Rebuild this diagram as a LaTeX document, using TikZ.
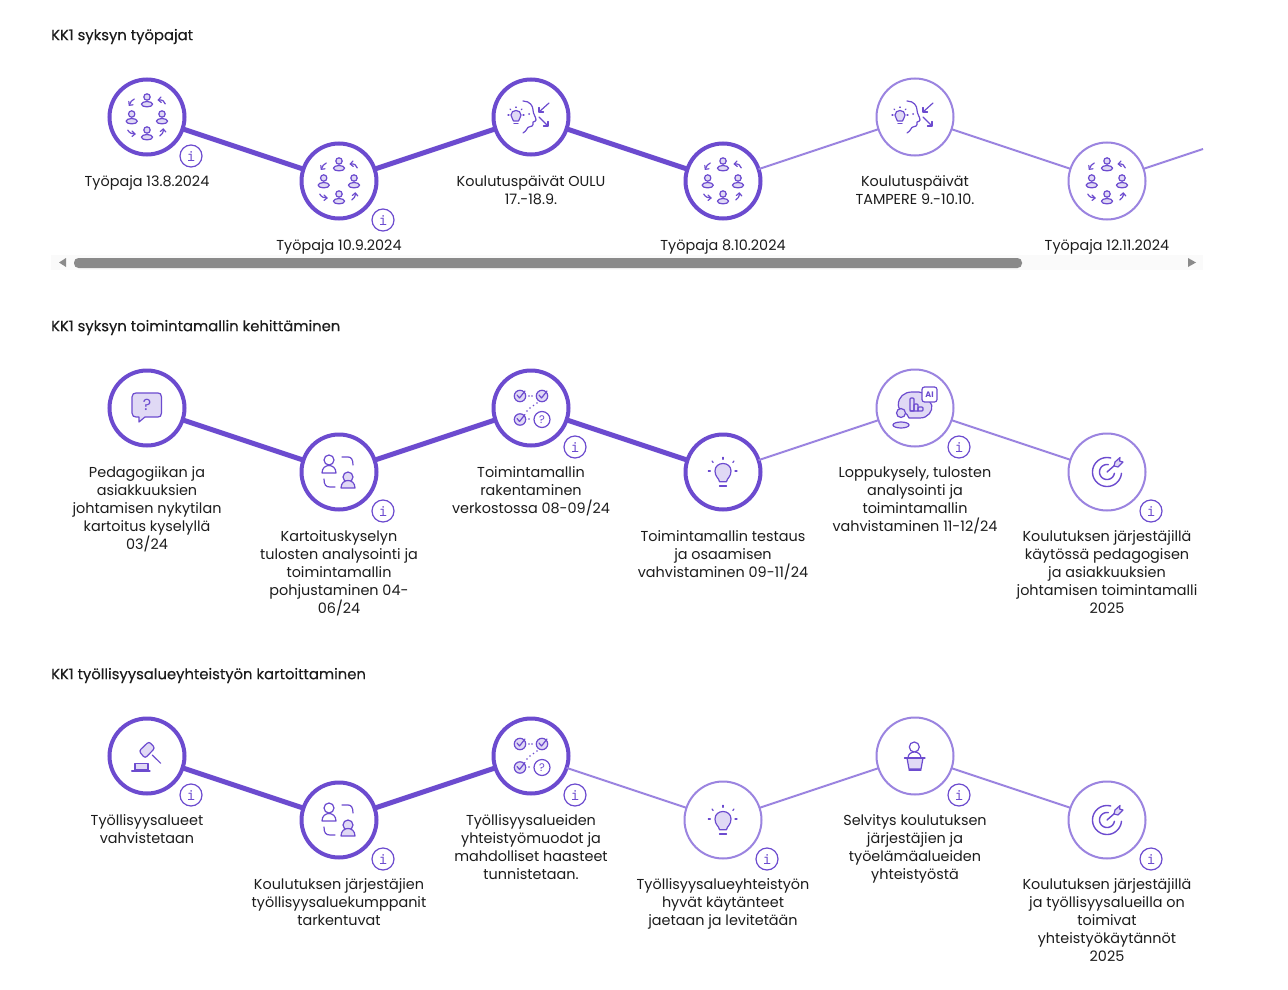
\documentclass[tikz,border=0pt]{standalone}
\usepackage{fontspec}
\setmainfont{Poppins}
\newfontfamily\headfont[FakeBold=0.25]{Poppins}
\newfontfamily\infofont[FakeBold=0.3]{DejaVu Sans Mono}
\definecolor{vio}{HTML}{6C4BCF}
\definecolor{viol}{HTML}{9B84E0}
\definecolor{lav}{HTML}{E0D9F5}
\definecolor{ink}{HTML}{1C1C1C}
\tikzset{
  x=1pt,y=-1pt,
  darkstep/.style={circle,draw=vio,line width=4pt,fill=white,minimum size=75pt,inner sep=0pt,outer sep=0pt},
  lightstep/.style={circle,draw=viol,line width=2pt,fill=white,minimum size=77pt,inner sep=0pt,outer sep=0pt},
  darklink/.style={draw=vio,line width=5pt},
  lightlink/.style={draw=viol,line width=2pt},
  lab/.style={anchor=north,align=center,inner sep=0pt,yshift=-3.5pt,text=ink,font=\fontsize{14.4}{18}\selectfont,execute at begin node=\strut},
  head/.style={anchor=west,inner sep=0pt,yshift=-1.5pt,text=ink,font=\headfont\fontsize{14.8}{18}\selectfont},
  info/.style={circle,draw=vio,line width=1.2pt,fill=white,minimum size=22pt,inner sep=0pt,text=vio,font=\infofont\fontsize{13}{13}\selectfont},
  ic/.style={draw=vio,line width=1.2pt,line cap=round,line join=round},
  icf/.style={ic,fill=lav},
  person/.pic={
    \draw[icf] (0,-3) circle[radius=3.2];
    \draw[icf] (0,4.2) ellipse[x radius=5.6,y radius=2.7];
  },
  groupicon/.pic={
    \pic at (0,-17) {person};
    \pic at (0,16) {person};
    \pic at (-15.3,0) {person};
    \pic at (15,0) {person};
    % four small turning arrows
    \draw[ic] (-12.7,-18) .. controls (-15,-17) and (-17,-15) .. (-17.7,-11.7);
    \draw[ic] (-18.2,-15.5) -- (-17.7,-11.7) -- (-14,-12.2);
    \draw[ic] (18.3,-13) .. controls (18,-16) and (15,-17.5) .. (11.3,-17);
    \draw[ic] (14,-20) -- (11.3,-17) -- (14.3,-14.5);
    \draw[ic] (-19.3,13) .. controls (-17.5,16) and (-15,17.3) .. (-12,17);
    \draw[ic] (-15,14) -- (-12,17) -- (-15,19.5);
    \draw[ic] (12.7,19) .. controls (15,18) and (16.5,15.5) .. (16.3,12);
    \draw[ic] (13.3,14.5) -- (16.3,12) -- (18.8,15);
  },
  bulb/.pic={
    \draw[icf] (-2.5,5) .. controls (-3,2) and (-5,2) .. (-5,-1) .. controls (-5,-7) and (5,-7) .. (5,-1) .. controls (5,2) and (3,2) .. (2.5,5) -- cycle;
    \draw[ic] (-2,7.5) -- (2,7.5);
    \foreach \a/\b/\c/\d in {-8/-1/-7/-1,7/-1/8/-1,-6/-7/-5.3/-6.3,6/-7/5.3/-6.3,0/-9/0/-8.5}
      \draw[ic] (\a,\b) -- (\c,\d);
  },
  bigbulb/.pic={
    \draw[icf] (-3.5,9.7) .. controls (-4,6) and (-8,5) .. (-8,-1) .. controls (-8,-11) and (8,-11) .. (8,-1) .. controls (8,5) and (4,6) .. (3.5,9.7) -- cycle;
    \draw[ic] (-3.5,14) -- (3.5,14);
    \foreach \a/\b/\c/\d in {-14.7/-1/-12.7/-1,12/-1/14/-1,0/-14.7/0/-12.7,-11/-11/-9.8/-9.5,11/-11/9.8/-9.5}
      \draw[ic] (\a,\b) -- (\c,\d);
  },
  headicon/.pic={
    \pic at (-15,-1) {bulb};
    \draw[ic] (-8,-16) .. controls (-1,-16) and (2,-11) .. (2,-7) .. controls (2,-3) and (5,0) .. (5,3) .. controls (5,4) and (3,5) .. (2,5) .. controls (3,9) and (0,10) .. (-2,10) .. controls (-4,10) and (-4,14) .. (-8,16);
    \fill[vio] (-2,-3) circle[radius=1];
    \draw[ic] (18,-14) -- (8,-5);
    \draw[ic] (8,-9.5) -- (8,-5) -- (12.5,-5);
    \draw[ic] (8,0) -- (17,9);
    \draw[ic] (12.5,9) -- (17,9) -- (17,4.5);
  },
  bubbleicon/.pic={
    \draw[icf] (-11,-15) -- (11,-15) .. controls (13,-15) and (14.5,-14) .. (14.5,-11) -- (14.5,5) .. controls (14.5,8) and (13,9) .. (11,9) -- (-2,9) -- (-8,14) -- (-8,9) -- (-11,9) .. controls (-13,9) and (-15,8) .. (-15,5) -- (-15,-11) .. controls (-15,-14) and (-13,-15) .. (-11,-15) -- cycle;
    \node[inner sep=0pt,text=vio,font=\fontsize{16}{16}\selectfont] (qm) at (0,-3) {?};
  },
  swapicon/.pic={
    \draw[ic,fill=white] (-10,-12) circle[radius=5];
    \draw[ic,fill=white] (-17,1) .. controls (-17,-9) and (-3,-9) .. (-3,1) -- cycle;
    \draw[icf] (9,5) circle[radius=5];
    \draw[icf] (2,16) .. controls (2,6) and (16,6) .. (16,16) -- cycle;
    \draw[ic] (3,-15) -- (9,-15) .. controls (12,-15) and (14,-13) .. (14,-7);
    \draw[ic] (-15,7) .. controls (-15,13) and (-13,15) .. (-9,15) -- (-4,15);
  },
  checkc/.pic={
    \draw[icf] (0,0) circle[radius=5.7];
    \draw[ic] (-3,-1) -- (-0.5,2) -- (5,-5);
  },
  netticon/.pic={
    \pic at (-11,-12) {checkc};
    \pic at (11,-12) {checkc};
    \pic at (-11,11.5) {checkc};
    \draw[ic] (11,11.5) circle[radius=8];
    \node[inner sep=0pt,text=vio,font=\fontsize{11}{11}\selectfont] (qn) at (11,11.5) {?};
    \foreach \p in {(-2,-12),(1,-12),(-2,11),(6,-5),(2.5,-2.5),(-1,0),(-4,3)}
      \fill[vio] \p circle[radius=0.9];
  },
  aiicon/.pic={
    \draw[icf] (-16.7,-3) .. controls (-16.7,-11) and (-11,-16) .. (-3,-16) -- (4,-16) .. controls (10,-16) and (12,-10) .. (16.7,-3) .. controls (18,3) and (13,10) .. (5,10) -- (-6,10) .. controls (-7,4) and (-16.7,4) .. (-16.7,-3) -- cycle;
    \draw[ic,fill=white,rounded corners=2.5pt] (7,-21) rectangle (22,-6);
    \node[inner sep=0pt,text=vio,font=\bfseries\fontsize{8}{8}\selectfont] (ai) at (14.5,-13.5) {AI};
    \draw[ic,rounded corners=1pt] (-5,3) -- (-5,-10) -- (-1,-10) -- (-1,3) -- cycle;
    \draw[ic,rounded corners=1pt] (-1,3) -- (-1,-4) -- (3,-4) -- (3,3);
    \draw[ic,rounded corners=1pt] (3,3) -- (3,-1) -- (8,-1) -- (8,3) -- (-5,3);
    \draw[icf] (-14,5) circle[radius=4.5];
    \draw[icf] (-14,17) ellipse[x radius=8,y radius=3];
  },
  targeticon/.pic={
    \draw[ic,line width=1.4pt] plot[domain=-285:-5,samples=40,smooth] ({14.5*cos(\x)},{-14.5*sin(\x)});
    \draw[ic,line width=1.4pt] plot[domain=-280:-10,samples=30,smooth] ({7.5*cos(\x)},{-7.5*sin(\x)});
    \draw[ic,line width=1.4pt] (0,0) -- (8,-7);
    \draw[icf] (7,-6) -- (8,-10) -- (13,-14.5) -- (12.5,-11) -- (16,-10) -- (11,-5) -- cycle;
  },
  hammericon/.pic={
    \draw[icf,rounded corners=2.5pt] (2,-14.5) -- (8,-8) -- (-2,2.3) -- (-8,-5) -- cycle;
    \draw[ic] (5.3,-1) -- (13.7,7.3);
    \draw[icf] (-12,14) -- (-12,7.3) -- (1,7.3) -- (1,14) -- cycle;
    \draw[ic] (-15.3,15) -- (3,15);
  },
  podiumicon/.pic={
    \draw[ic,fill=white] (-0.7,-9) circle[radius=5];
    \draw[ic,fill=white] (-7,2) .. controls (-7,-6) and (6,-6) .. (6,2);
    \draw[icf] (-8,2) -- (8,2) -- (6,13) -- (-6,13) -- cycle;
    \draw[ic] (-10.5,2) -- (10,2);
    \draw[ic] (-6,14) -- (6,14);
  },
}
\begin{document}
\begin{tikzpicture}
\useasboundingbox (0,0) rectangle (1288,990);
\fill[white] (0,0) rectangle (1288,990);

% headings
\node[head] (h1) at (51,35) {KK1 syksyn työpajat};
\node[head] (h2) at (51,326) {KK1 syksyn toimintamallin kehittäminen};
\node[head] (h3) at (51,674) {KK1 työllisyysalueyhteistyön kartoittaminen};

% scrollbar
\fill[black!2] (51,255) rectangle (1203,270);
\fill[black!46,rounded corners=4.5pt] (74,258) rectangle (1022,268);
\fill[black!46] (59,262.5) -- (66,258) -- (66,267) -- cycle;
\fill[black!46] (1196,262.5) -- (1188,258) -- (1188,267) -- cycle;

% row 1
\node[darkstep] (a1) at (147,117) {};
\node[darkstep] (a2) at (339,181) {};
\node[darkstep] (a3) at (531,117) {};
\node[darkstep] (a4) at (723,181) {};
\node[lightstep] (a5) at (915,117) {};
\node[lightstep] (a6) at (1107,181) {};
\coordinate (aend) at (1203,149);
\draw[darklink] (a1) -- (a2);
\draw[darklink] (a2) -- (a3);
\draw[darklink] (a3) -- (a4);
\draw[lightlink] (a4) -- (a5);
\draw[lightlink] (a5) -- (a6);
\draw[lightlink] (a6) -- (aend);
\pic at (a1) {groupicon};
\pic at (a2) {groupicon};
\pic at (a3) {headicon};
\pic at (a4) {groupicon};
\pic at (a5) {headicon};
\pic at (a6) {groupicon};
\node[info] (ai1) at (191,156) {i};
\node[info] (ai2) at (383,220) {i};
\node[lab] (al1) at (147,170) {Työpaja 13.8.2024};
\node[lab] (al2) at (339,234) {Työpaja 10.9.2024};
\node[lab] (al3) at (531,172) {Koulutuspäivät OULU\\17.-18.9.};
\node[lab] (al4) at (723,234) {Työpaja 8.10.2024};
\node[lab] (al5) at (915,172) {Koulutuspäivät\\TAMPERE 9.-10.10.};
\node[lab] (al6) at (1107,234) {Työpaja 12.11.2024};

% row 2
\node[darkstep] (b1) at (147,408) {};
\node[darkstep] (b2) at (339,472) {};
\node[darkstep] (b3) at (531,408) {};
\node[darkstep] (b4) at (723,472) {};
\node[lightstep] (b5) at (915,408) {};
\node[lightstep] (b6) at (1107,472) {};
\draw[darklink] (b1) -- (b2);
\draw[darklink] (b2) -- (b3);
\draw[darklink] (b3) -- (b4);
\draw[lightlink] (b4) -- (b5);
\draw[lightlink] (b5) -- (b6);
\pic at (b1) {bubbleicon};
\pic at (b2) {swapicon};
\pic at (b3) {netticon};
\pic at (b4) {bigbulb};
\pic at (b5) {aiicon};
\pic at (b6) {targeticon};
\node[info] (bi2) at (383,511) {i};
\node[info] (bi3) at (575,447) {i};
\node[info] (bi5) at (959,447) {i};
\node[info] (bi6) at (1151,511) {i};
\node[lab] (bl1) at (147,463) {Pedagogiikan ja\\asiakkuuksien\\johtamisen nykytilan\\kartoitus kyselyllä\\03/24};
\node[lab] (bl2) at (339,527) {Kartoituskyselyn\\tulosten analysointi ja\\toimintamallin\\pohjustaminen 04-\\06/24};
\node[lab] (bl3) at (531,463) {Toimintamallin\\rakentaminen\\verkostossa 08-09/24};
\node[lab] (bl4) at (723,527) {Toimintamallin testaus\\ja osaamisen\\vahvistaminen 09-11/24};
\node[lab] (bl5) at (915,463) {Loppukysely, tulosten\\analysointi ja\\toimintamallin\\vahvistaminen 11-12/24};
\node[lab] (bl6) at (1107,527) {Koulutuksen järjestäjillä\\käytössä pedagogisen\\ja asiakkuuksien\\johtamisen toimintamalli\\2025};

% row 3
\node[darkstep] (c1) at (147,756) {};
\node[darkstep] (c2) at (339,820) {};
\node[darkstep] (c3) at (531,756) {};
\node[lightstep] (c4) at (723,820) {};
\node[lightstep] (c5) at (915,756) {};
\node[lightstep] (c6) at (1107,820) {};
\draw[darklink] (c1) -- (c2);
\draw[darklink] (c2) -- (c3);
\draw[lightlink] (c3) -- (c4);
\draw[lightlink] (c4) -- (c5);
\draw[lightlink] (c5) -- (c6);
\pic at (c1) {hammericon};
\pic at (c2) {swapicon};
\pic at (c3) {netticon};
\pic at (c4) {bigbulb};
\pic at (c5) {podiumicon};
\pic at (c6) {targeticon};
\node[info] (ci1) at (191,795) {i};
\node[info] (ci2) at (383,859) {i};
\node[info] (ci3) at (575,795) {i};
\node[info] (ci4) at (767,859) {i};
\node[info] (ci5) at (959,795) {i};
\node[info] (ci6) at (1151,859) {i};
\node[lab] (cl1) at (147,811) {Työllisyysalueet\\vahvistetaan};
\node[lab] (cl2) at (339,875) {Koulutuksen järjestäjien\\työllisyysaluekumppanit\\tarkentuvat};
\node[lab] (cl3) at (531,811) {Työllisyysalueiden\\yhteistyömuodot ja\\mahdolliset haasteet\\tunnistetaan.};
\node[lab] (cl4) at (723,875) {Työllisyysalueyhteistyön\\hyvät käytänteet\\jaetaan ja levitetään};
\node[lab] (cl5) at (915,811) {Selvitys koulutuksen\\järjestäjien ja\\työelämäalueiden\\yhteistyöstä};
\node[lab] (cl6) at (1107,875) {Koulutuksen järjestäjillä\\ja työllisyysalueilla on\\toimivat\\yhteistyökäytännöt\\2025};
\end{tikzpicture}
\end{document}
